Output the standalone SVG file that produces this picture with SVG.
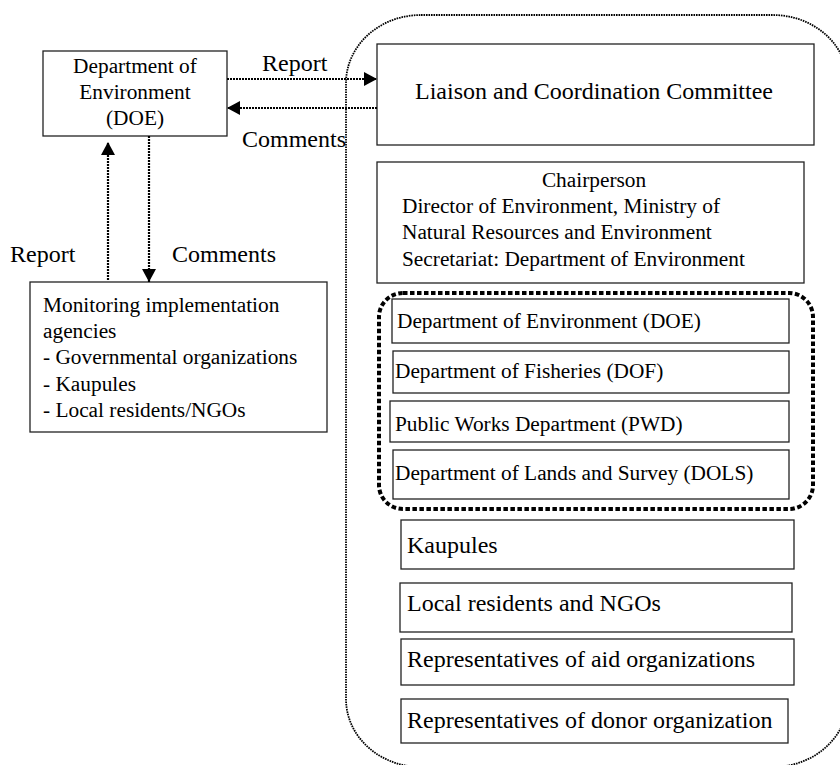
<svg xmlns="http://www.w3.org/2000/svg" width="840" height="765" viewBox="0 0 840 765">
<defs>
<style>
.box{fill:#fff;stroke:#222;stroke-width:1.3}
.t16{font-family:"Liberation Serif","Times New Roman",serif;font-size:21.33px;fill:#000}
.t18{font-family:"Liberation Serif","Times New Roman",serif;font-size:24px;fill:#000}
.dot{fill:none;stroke:#000;stroke-width:2.2;stroke-dasharray:2 1}
.outer{fill:none;stroke:#000;stroke-width:1.8;stroke-dasharray:1.6 0.9}
.group{fill:none;stroke:#000;stroke-width:4;stroke-dasharray:4.5 2.5}
</style>
<marker id="ah" markerWidth="14" markerHeight="14" viewBox="0 0 14 14" refX="13" refY="7" orient="auto" markerUnits="userSpaceOnUse">
<path d="M0,0 L13,7 L0,14 Z" fill="#000"/>
</marker>
</defs>
<rect fill="#fff" width="840" height="765"/>

<g id="committee-boundary">
<rect class="outer" x="346" y="15" width="502" height="752" rx="75" ry="68"/>
</g>

<g id="doe">
<rect class="box" x="43" y="51" width="184" height="85"/>
<text class="t16" x="135" y="73" text-anchor="middle">Department of</text>
<text class="t16" x="135" y="99" text-anchor="middle">Environment</text>
<text class="t16" x="135" y="125" text-anchor="middle">(DOE)</text>
</g>

<g id="monitoring">
<rect class="box" x="30" y="282" width="297" height="150"/>
<text class="t16" x="43" y="312">Monitoring implementation</text>
<text class="t16" x="43" y="338">agencies</text>
<text class="t16" x="43" y="364">- Governmental organizations</text>
<text class="t16" x="43" y="391">- Kaupules</text>
<text class="t16" x="43" y="417">- Local residents/NGOs</text>
</g>

<g id="liaison">
<rect class="box" x="377" y="44" width="437" height="101"/>
<text class="t18" x="594" y="99" text-anchor="middle">Liaison and Coordination Committee</text>
</g>

<g id="chair">
<rect class="box" x="377" y="162" width="427" height="121"/>
<text class="t16" x="594" y="187" text-anchor="middle">Chairperson</text>
<text class="t16" x="402" y="213">Director of Environment, Ministry of</text>
<text class="t16" x="402" y="239">Natural Resources and Environment</text>
<text class="t16" x="402" y="266">Secretariat: Department of Environment</text>
</g>

<g id="gov-group">
<rect class="group" x="379" y="293" width="434" height="216" rx="24" ry="24"/>
</g>

<g id="dept-doe">
<rect class="box" x="392" y="299" width="397" height="44"/>
<text class="t16" x="397" y="328">Department of Environment (DOE)</text>
</g>
<g id="dept-dof">
<rect class="box" x="393" y="351" width="396" height="42"/>
<text class="t16" x="395" y="378">Department of Fisheries (DOF)</text>
</g>
<g id="dept-pwd">
<rect class="box" x="390" y="401" width="399" height="41"/>
<text class="t16" x="395" y="431">Public Works Department (PWD)</text>
</g>
<g id="dept-dols">
<rect class="box" x="393" y="450" width="396" height="49"/>
<text class="t16" x="395" y="480">Department of Lands and Survey (DOLS)</text>
</g>

<g id="kaupules">
<rect class="box" x="401" y="520" width="393" height="49"/>
<text class="t18" x="407" y="553">Kaupules</text>
</g>
<g id="local">
<rect class="box" x="400" y="583" width="392" height="49"/>
<text class="t18" x="407" y="611">Local residents and NGOs</text>
</g>
<g id="aid">
<rect class="box" x="401" y="639" width="393" height="46"/>
<text class="t18" x="407" y="667">Representatives of aid organizations</text>
</g>
<g id="donor">
<rect class="box" x="401" y="699" width="387" height="44"/>
<text class="t18" x="407" y="728">Representatives of donor organization</text>
</g>

<g id="connectors">
<line class="dot" x1="227" y1="79" x2="377" y2="79" marker-end="url(#ah)"/>
<line class="dot" x1="377" y1="108" x2="227" y2="108" marker-end="url(#ah)"/>
<line class="dot" x1="108" y1="280" x2="108" y2="142" marker-end="url(#ah)"/>
<line class="dot" x1="149" y1="136" x2="149" y2="282" marker-end="url(#ah)"/>
<text class="t18" x="262" y="71">Report</text>
<text class="t18" x="242" y="147">Comments</text>
<text class="t18" x="10" y="262">Report</text>
<text class="t18" x="172" y="262">Comments</text>
</g>
</svg>
